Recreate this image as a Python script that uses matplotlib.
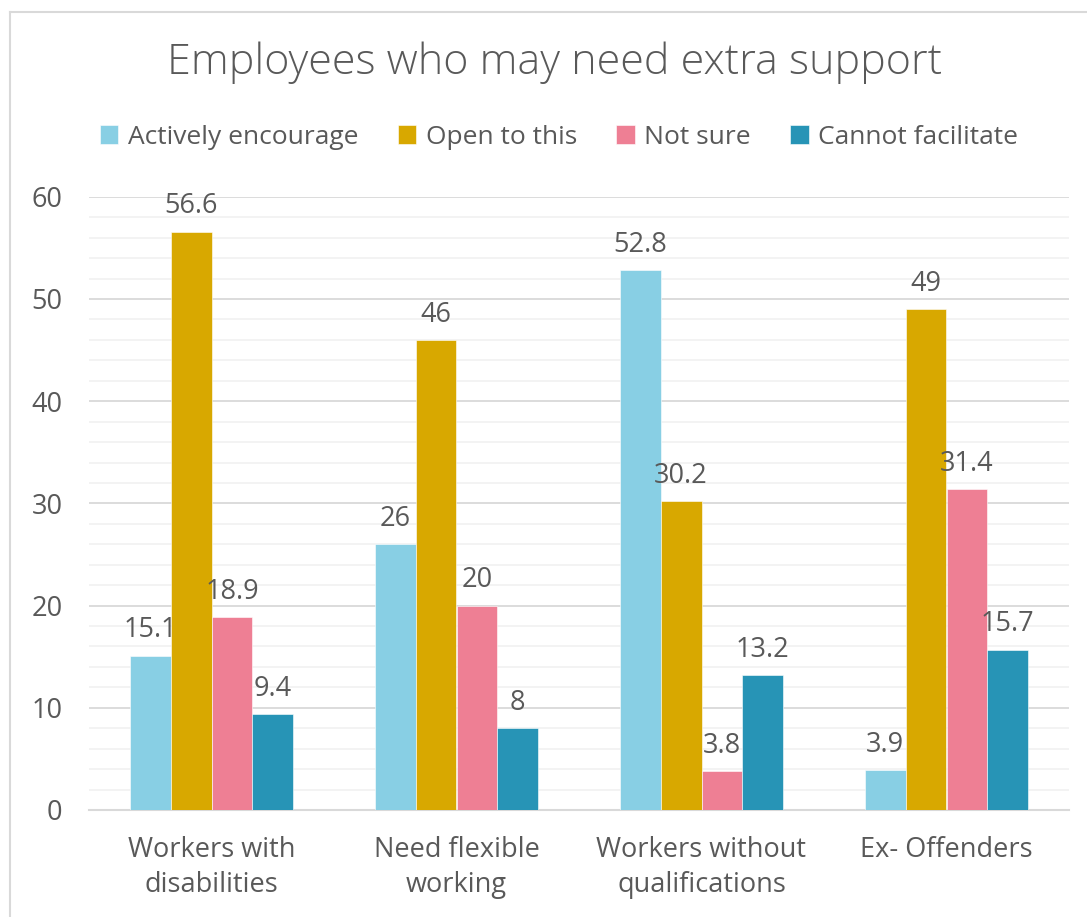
import numpy as np
import matplotlib.pyplot as plt
from matplotlib.lines import Line2D

plt.rcParams['font.family'] = ['Open Sans', 'DejaVu Sans']

categories = ["Workers with\ndisabilities", "Need flexible\nworking",
              "Workers without\nqualifications", "Ex- Offenders"]
series = ["Actively encourage", "Open to this", "Not sure", "Cannot facilitate"]
actively = [15.1, 26, 52.8, 3.9]
open_to = [56.6, 46, 30.2, 49]
not_sure = [18.9, 20, 3.8, 31.4]
cannot = [9.4, 8, 13.2, 15.7]
labels = [["15.1", "26", "52.8", "3.9"], ["56.6", "46", "30.2", "49"],
          ["18.9", "20", "3.8", "31.4"], ["9.4", "8", "13.2", "15.7"]]
colors = ["#88CFE4", "#D8A800", "#EE7F94", "#2794B6"]
txt = "#595959"

fig = plt.figure(figsize=(10.87, 9.17), dpi=100)
ax = fig.add_axes([89/1087, 1 - 810/917, 980/1087, 613.2/917])

# chart border (left and top edges visible)
fig.add_artist(Line2D([10/1087, 10/1087], [0, 1 - 12/917], color="#D9D9D9", lw=1.5))
fig.add_artist(Line2D([10/1087, 1], [1 - 12/917, 1 - 12/917], color="#D9D9D9", lw=1.5))

x = np.arange(len(categories))
w = 1 / 6
for i, vals in enumerate([actively, open_to, not_sure, cannot]):
    pos = x + (i - 1.5) * w
    ax.bar(pos, vals, w, color=colors[i], label=series[i], zorder=3,
           edgecolor="white", linewidth=0.4)
    for p, v, s in zip(pos, vals, labels[i]):
        ax.text(p, v + 1.1, s, ha="center", va="bottom", fontsize=19.5, color=txt)

ax.set_xlim(-0.5, 3.5)
ax.set_ylim(0, 60)
ax.set_yticks(range(0, 61, 10))
ax.set_yticks(range(0, 61, 2), minor=True)
ax.grid(axis="y", which="major", color="#D9D9D9", lw=1.3, zorder=0)
ax.grid(axis="y", which="minor", color="#F2F2F2", lw=1.3, zorder=0)
ax.set_xticks(x)
ax.set_xticklabels(categories, fontsize=19.5, color=txt, linespacing=1.32)
ax.tick_params(axis="y", labelsize=19.5, labelcolor=txt, length=0, pad=19)
ax.tick_params(axis="x", length=0, pad=19)
ax.tick_params(which="minor", length=0)
for s in ["top", "right", "left"]:
    ax.spines[s].set_visible(False)
ax.spines["bottom"].set_color("#D9D9D9")
ax.spines["bottom"].set_linewidth(1.5)

fig.text(555/1087, 1 - 63/917, "Employees who may need extra support",
         ha="center", va="center", fontsize=31, color=txt, fontweight="light")
fig.legend(loc="center", bbox_to_anchor=(559/1087, 1 - 137/917), ncol=4,
           frameon=False, fontsize=19, labelcolor=txt, handlelength=0.7,
           handleheight=0.7, handletextpad=0.35, columnspacing=1.5)

fig.savefig("out.png", dpi=100)
